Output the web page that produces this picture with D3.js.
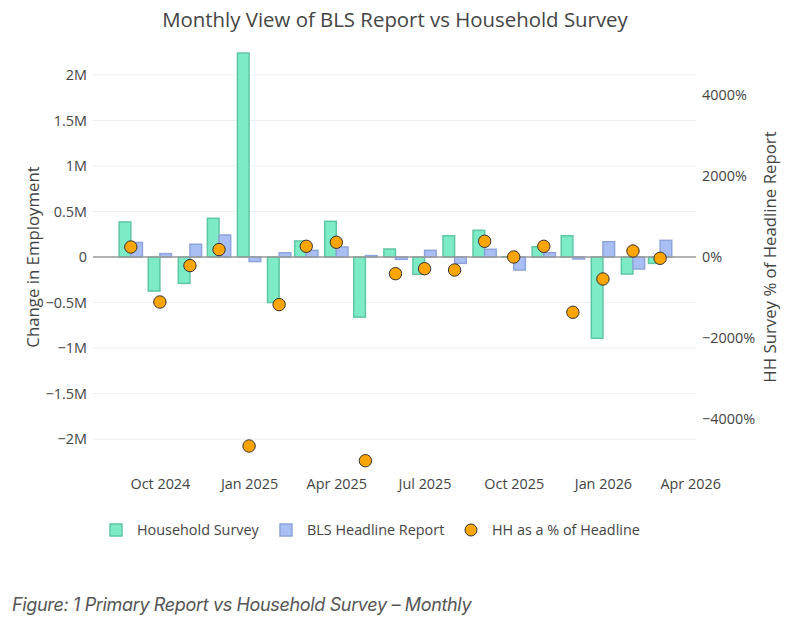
<!DOCTYPE html>
<html>
<head>
<meta charset="utf-8">
<script src="https://cdn.jsdelivr.net/npm/d3@7/dist/d3.min.js"></script>
<style>
  body { margin: 0; background: #fff; }
  svg text { font-family: "Open Sans", Verdana, sans-serif; fill: #444; }
</style>
</head>
<body>
<svg id="chart" width="797" height="621"></svg>
<script>
// monthly data, Sep 2024 .. Mar 2026
var months = ["2024-09", "2024-10", "2024-11", "2024-12", "2025-01", "2025-02", "2025-03",
  "2025-04", "2025-05", "2025-06", "2025-07", "2025-08", "2025-09", "2025-10", "2025-11",
  "2025-12", "2026-01", "2026-02", "2026-03"];

var household = [385000, -374000, -290000, 425000, 2240000, -500000, 176000, 392000, -660000,
  88000, -190000, 234000, 293000, 3000, 113000, 234000, -893000, -187000, -70000];

var blsHeadline = [160000, 37000, 140000, 242000, -50000, 46000, 73000, 110000, 15000,
  -26000, 73000, -70000, 85000, -143000, 47000, -22000, 168000, -132000, 183000];

var hhPctOfHeadline = [247, -1111, -212, 183, -4667, -1175, 264, 363, -5030,
  -412, -289, -321, 388, 0, 264, -1365, -543, 148, -32];

var leftTicks = [-2000000, -1500000, -1000000, -500000, 0, 500000, 1000000, 1500000, 2000000];
var rightTicks = [-4000, -2000, 0, 2000, 4000];
var xTickLabels = ["2024-10", "2025-01", "2025-04", "2025-07", "2025-10", "2026-01", "2026-04"];

var seriesNames = ["Household Survey", "BLS Headline Report", "HH as a % of Headline"];

function parseMonth(s) {
  var p = s.split("-");
  return new Date(Date.UTC(+p[0], +p[1] - 1, 1));
}

var svg = d3.select("#chart");
var plot = { left: 93, right: 696, top: 43, bottom: 471 };

var x = d3.scaleUtc()
  .domain([new Date(Date.UTC(2024, 6, 24)), new Date(Date.UTC(2026, 3, 7))])
  .range([plot.left, plot.right]);

var y = d3.scaleLinear().domain([-2350000, 2350000]).range([plot.bottom, plot.top]);
var y2 = d3.scaleLinear().domain([-5284, 5284]).range([plot.bottom, plot.top]);

var minus = function(s) { return s.replace("-", "\u2212"); };
var fmtLeft = function(v) {
  if (v === 0) return "0";
  return minus(d3.format("~g")(v / 1e6) + "M");
};
var fmtRight = function(v) { return minus(v + "%"); };

var rows = months.map(function(m, i) {
  return { date: parseMonth(m), hh: household[i], bls: blsHeadline[i], pct: hhPctOfHeadline[i] };
});

// bar width in days, each bar sits on one side of the month
function barW(d) {
  return x(d3.utcDay.offset(d.date, 12)) - x(d.date);
}

// gridlines
svg.append("g").selectAll("line")
  .data(leftTicks.filter(function(t) { return t !== 0; }))
  .join("line")
  .attr("x1", plot.left).attr("x2", plot.right)
  .attr("y1", function(d) { return y(d); }).attr("y2", function(d) { return y(d); })
  .attr("stroke", "#eee").attr("stroke-width", 1);

// left axis
var yAxis = d3.axisLeft(y).tickValues(leftTicks).tickFormat(fmtLeft).tickSize(0).tickPadding(6);
var gy = svg.append("g").attr("transform", "translate(" + plot.left + ",0)").call(yAxis);
gy.select(".domain").remove();
gy.selectAll("text").style("font-size", "14.4px");

// right axis
var y2Axis = d3.axisRight(y2).tickValues(rightTicks).tickFormat(fmtRight).tickSize(0).tickPadding(6);
var gy2 = svg.append("g").attr("transform", "translate(" + plot.right + ",0)").call(y2Axis);
gy2.select(".domain").remove();
gy2.selectAll("text").style("font-size", "14.4px");

// x axis
var xAxis = d3.axisBottom(x).tickValues(xTickLabels.map(parseMonth))
  .tickFormat(d3.utcFormat("%b %Y")).tickSize(0).tickPadding(8);
var gx = svg.append("g").attr("transform", "translate(0," + plot.bottom + ")").call(xAxis);
gx.select(".domain").remove();
gx.selectAll("text").style("font-size", "14.4px");

// bars
svg.append("g").selectAll("rect")
  .data(rows)
  .join("rect")
  .attr("x", function(d) { return x(d.date) - barW(d); })
  .attr("width", function(d) { return barW(d); })
  .attr("y", function(d) { return y(Math.max(0, d.hh)); })
  .attr("height", function(d) { return Math.abs(y(d.hh) - y(0)); })
  .attr("fill", "#7eebc7").attr("stroke", "#5fc7a0").attr("stroke-width", 1.5);

svg.append("g").selectAll("rect")
  .data(rows)
  .join("rect")
  .attr("x", function(d) { return x(d.date); })
  .attr("width", function(d) { return barW(d); })
  .attr("y", function(d) { return y(Math.max(0, d.bls)); })
  .attr("height", function(d) { return Math.abs(y(d.bls) - y(0)); })
  .attr("fill", "#a9bef2").attr("stroke", "#8ea4dc").attr("stroke-width", 1.5);

// zero line
svg.append("line")
  .attr("x1", plot.left).attr("x2", plot.right)
  .attr("y1", y(0)).attr("y2", y(0))
  .attr("stroke", "#999").attr("stroke-width", 1.5);

// ratio markers
svg.append("g").selectAll("circle")
  .data(rows)
  .join("circle")
  .attr("cx", function(d) { return x(d.date); })
  .attr("cy", function(d) { return y2(d.pct); })
  .attr("r", 6.2)
  .attr("fill", "#ffa500").attr("stroke", "#333").attr("stroke-width", 1);

// titles
svg.append("text").attr("x", 395).attr("y", 27).attr("text-anchor", "middle")
  .style("font-size", "20.4px").text("Monthly View of BLS Report vs Household Survey");

svg.append("text").attr("transform", "translate(39,257) rotate(-90)").attr("text-anchor", "middle")
  .style("font-size", "16.8px").text("Change in Employment");

svg.append("text").attr("transform", "translate(776,257) rotate(-90)").attr("text-anchor", "middle")
  .style("font-size", "16.8px").text("HH Survey % of Headline Report");

// legend
var legend = svg.append("g").attr("transform", "translate(0,530)");
var legendX = [116, 286, 471];
legend.append("rect").attr("x", legendX[0] - 6).attr("y", -6).attr("width", 12).attr("height", 12)
  .attr("fill", "#7eebc7").attr("stroke", "#5fc7a0").attr("stroke-width", 1.5);
legend.append("rect").attr("x", legendX[1] - 6).attr("y", -6).attr("width", 12).attr("height", 12)
  .attr("fill", "#a9bef2").attr("stroke", "#8ea4dc").attr("stroke-width", 1.5);
legend.append("circle").attr("cx", legendX[2]).attr("cy", 0).attr("r", 6)
  .attr("fill", "#ffa500").attr("stroke", "#333").attr("stroke-width", 1);
legend.selectAll("text.lbl")
  .data(seriesNames)
  .join("text")
  .attr("class", "lbl")
  .attr("x", function(d, i) { return legendX[i] + 21; })
  .attr("y", 5)
  .style("font-size", "14.4px")
  .text(function(d) { return d; });

// caption
svg.append("text").attr("x", 12).attr("y", 611)
  .style("font-family", "Inter, sans-serif").style("font-style", "italic")
  .style("font-size", "18px").style("letter-spacing", "-0.35px").style("fill", "#555")
  .text("Figure: 1 Primary Report vs Household Survey \u2013 Monthly");
</script>
</body>
</html>
